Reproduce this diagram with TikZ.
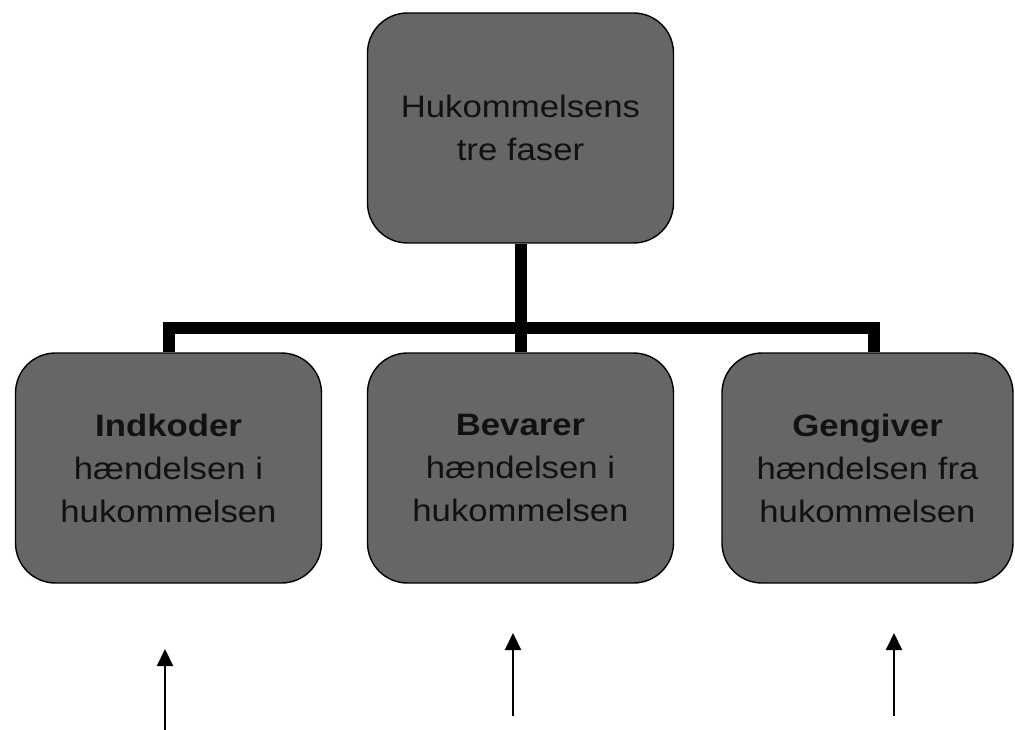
\documentclass[tikz,border=0pt]{standalone}
\usepackage{fontspec}
\setmainfont{Liberation Sans}[FakeStretch=1.12]
\usetikzlibrary{arrows.meta,positioning}
\definecolor{boxgray}{HTML}{666666}
\definecolor{ink}{HTML}{111111}
\tikzset{
  phase/.style={draw=black,line width=1.4pt,fill=boxgray,rounded corners=40pt,
    minimum width=306pt,minimum height=230pt,inner sep=0pt,align=center,
    text=ink,font=\fontsize{31}{43}\selectfont},
  bar/.style={line width=12pt,line join=miter},
  uparrow/.style={line width=2pt,-{Triangle[width=16pt,length=17pt]}}
}
\begin{document}
\begin{tikzpicture}[x=1pt,y=-1pt]
\useasboundingbox (0,0) rectangle (1015,730);
\node[phase] (top) at (520.5,128) {Hukommelsens\\tre faser};
\node[phase] (ind) at (168.5,468) {\textbf{Indkoder}\\hændelsen i\\hukommelsen};
\node[phase] (bev) at (520.5,468) {\textbf{Bevarer}\\hændelsen i\\hukommelsen};
\node[phase,minimum width=291pt] (gen) at (867.5,468) {\textbf{Gengiver}\\hændelsen fra\\hukommelsen};
% connectors
\draw[bar] (top.south) -- (bev.north);
\draw[bar] (ind.north) -- ++(0,-24) -| ([xshift=6.5pt]gen.north);
% arrows below the boxes
\coordinate (a1) at (165,730);
\coordinate (a1t) at (165,649);
\coordinate (a2) at (513,716);
\coordinate (a2t) at (513,633);
\coordinate (a3) at (894,716);
\coordinate (a3t) at (894,633);
\draw[uparrow] (a1) -- (a1t);
\draw[uparrow] (a2) -- (a2t);
\draw[uparrow] (a3) -- (a3t);
\end{tikzpicture}
\end{document}
